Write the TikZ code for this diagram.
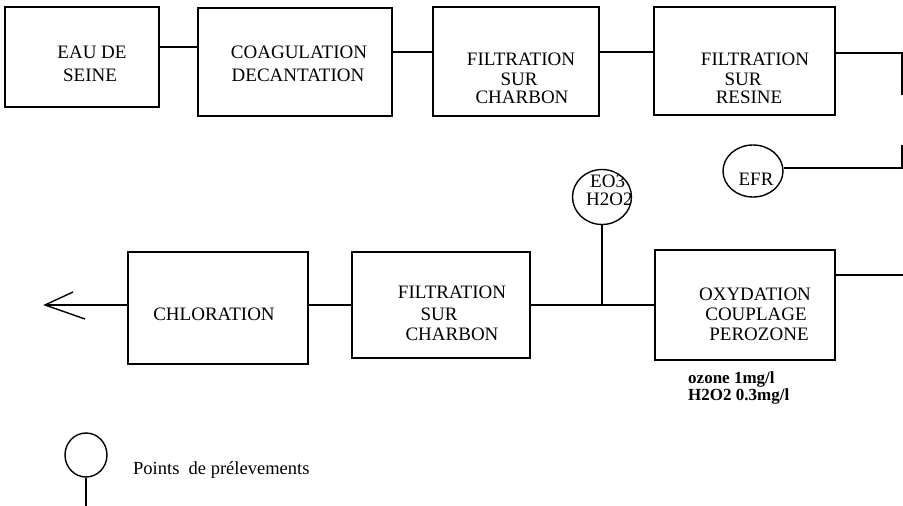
\documentclass[tikz,border=0pt]{standalone}
\usepackage{fontspec}
\setmainfont{Liberation Serif}
\usetikzlibrary{shapes.geometric}
\begin{document}
\begin{tikzpicture}[x=1pt,y=-1pt,
  box/.style={draw, rectangle, line width=1.4pt, inner sep=0pt},
  ring/.style={draw, ellipse, line width=1.4pt, inner sep=0pt},
  conn/.style={line width=1.4pt},
  lbl/.style={anchor=base, inner sep=0pt, font=\fontsize{19}{21}\selectfont},
  note/.style={anchor=base west, inner sep=0pt, font=\fontsize{17}{19}\selectfont\bfseries},
]
\useasboundingbox (0,0) rectangle (903,506);

% boxes
\node[box, minimum width=154pt, minimum height=100pt] (b1) at (82,57) {};
\node[box, minimum width=194pt, minimum height=108pt] (b2) at (295,62) {};
\node[box, minimum width=166pt, minimum height=109pt] (b3) at (516,61.5) {};
\node[box, minimum width=181pt, minimum height=108pt] (b4) at (744.5,61) {};
\node[box, minimum width=180pt, minimum height=110pt] (oxy) at (745,305) {};
\node[box, minimum width=178pt, minimum height=106pt] (f2) at (441,305) {};
\node[box, minimum width=180pt, minimum height=112pt] (ch) at (218,308) {};

% box texts
\node[lbl] (t1a) at (92,58) {EAU DE};
\node[lbl] (t1b) at (90,81) {SEINE};
\node[lbl] (t2a) at (299,58) {COAGULATION};
\node[lbl] (t2b) at (298,81) {DECANTATION};
\node[lbl] (t3a) at (521,65) {FILTRATION};
\node[lbl] (t3b) at (519,85) {SUR};
\node[lbl] (t3c) at (522,103) {CHARBON};
\node[lbl] (t4a) at (755,65) {FILTRATION};
\node[lbl] (t4b) at (743,85) {SUR};
\node[lbl] (t4c) at (749,103) {RESINE};
\node[lbl] (t5a) at (755,300) {OXYDATION};
\node[lbl] (t5b) at (756,320) {COUPLAGE};
\node[lbl] (t5c) at (759,340) {PEROZONE};
\node[lbl] (t6a) at (452,298) {FILTRATION};
\node[lbl] (t6b) at (439,320) {SUR};
\node[lbl] (t6c) at (452,340) {CHARBON};
\node[lbl] (t7) at (214,320) {CHLORATION};

% sampling points
\node[ring, minimum width=60pt, minimum height=52pt] (efr) at (753,171) {};
\node[lbl] (tefr) at (756,185) {EFR};
\node[ring, minimum width=59pt, minimum height=55pt] (eo) at (602,197) {};
\begin{scope}
  \clip (602,197) ellipse [x radius=29pt, y radius=27pt];
  \node[lbl, anchor=base west] (teo1) at (590,187) {EO3};
  \node[lbl, anchor=base west] (teo2) at (586,205) {H2O2};
\end{scope}

% right-side return
\coordinate (ra) at (902,53);
\coordinate (rb) at (902,95);
\coordinate (rc) at (902,145);
\coordinate (rd) at (902,168);
\coordinate (ro) at (903,275);

% connectors
\draw[conn] (b1.east |- 0,47) -- (b2.west |- 0,47);
\draw[conn] (b2.east |- 0,52) -- (b3.west |- 0,52);
\draw[conn] (b3.east |- 0,52) -- (b4.west |- 0,52);
\draw[conn] (b4.east |- ra) -- (ra) -- (rb);
\draw[conn] (rc) -- (rd) -- (efr.east |- rd);
\draw[conn] (oxy.east |- ro) -- (ro);
\draw[conn] (eo.south) -- (eo.south |- f2.east);
\draw[conn] (f2.east) -- (oxy.west);
\draw[conn] (f2.west) -- (ch.east |- f2.west);

% outlet arrow
\coordinate (tip) at (45,305);
\coordinate (arm1) at (73,292);
\coordinate (arm2) at (85,319);
\draw[conn] (ch.west |- f2.west) -- (tip);
\draw[conn] (arm1) -- (tip) -- (arm2);

% dosage note
\node[note] (n1) at (688,383) {ozone 1mg/l};
\node[note] (n2) at (688,400) {H2O2 0.3mg/l};

% legend
\node[ring, minimum width=42pt, minimum height=44pt] (lg) at (86,455) {};
\draw[conn] (lg.south) -- (lg.south |- 0,506);
\node[lbl, anchor=base west, font=\fontsize{18.5}{20}\selectfont] (tlg) at (133,474) {Points\ \ de prélevements};
\end{tikzpicture}
\end{document}
